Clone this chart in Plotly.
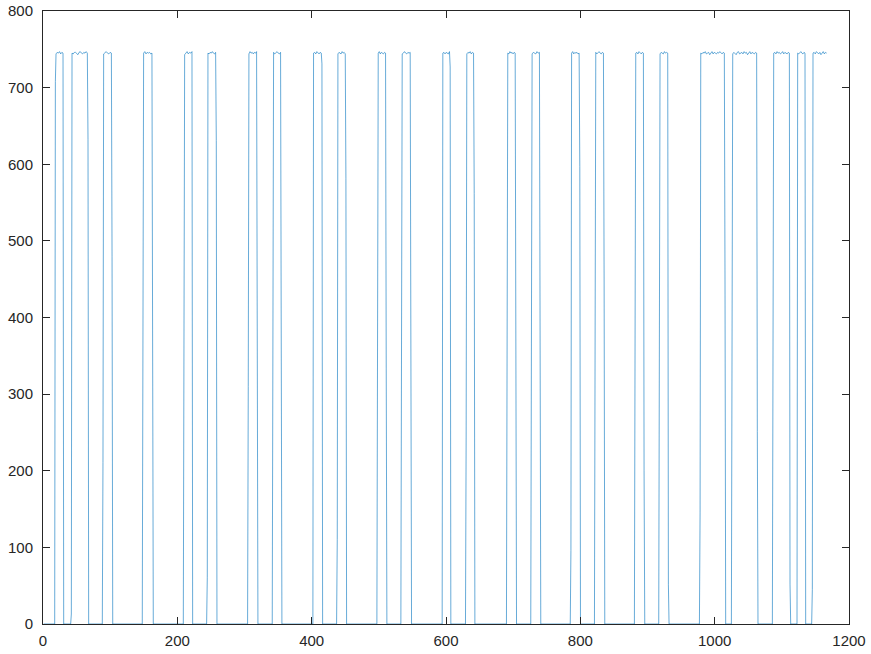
import numpy as np
import plotly.graph_objects as go

# ---- data ----
# rise position, value of the intermediate sample on the rising edge (None = none)
rise_x = [18.4, 42.2, 89.3, 148.8, 209.9, 244.6, 305.6, 342.3, 401.8, 438.1,
          498.1, 533.8, 594.3, 630.0, 691.0, 727.2, 786.0, 822.0, 881.5, 917.7,
          978.3, 1025.9, 1086.9, 1122.6, 1145.4]
rise_mid = [708, 13, 211, 458, 706, 61, 310, 508, None, 110,
            359, 507, None, 244, 493, 642, 96, 245, 493, 642,
            145, 344, 592, None, 45]
# fall position, value of the intermediate sample on the falling edge (None = none)
fall_x = [29.8, 66.0, 101.8, 162.2, 221.8, 257.0, 318.0, 353.7, 414.3, 450.0,
          510.0, 546.7, 605.2, 641.0, 703.0, 739.1, 798.2, 834.4, 893.9, 930.1,
          1014.4, 1062.5, 1111.2, 1134.5, 1166.7]
fall_mid = [None, 632, 480, 234, None, 631, 384, 234, 731, 581,
            334, 186, 727, 562, 200, 52, 597, 449, 200, 52,
            449, 251, 52, None, "end"]
# plateau samples (high level, slightly noisy)
plateaus = [
    [744, 746, 745, 747, 744, 746, 745],
    [745, 744, 746, 746, 745, 743, 746, 747, 745, 744, 746, 745, 747, 745],
    [744, 746, 747, 745, 744, 746, 745],
    [745, 747, 744, 746, 745, 746, 744, 745],
    [743, 745, 747, 744, 746, 745, 747],
    [745, 744, 746, 745, 747, 745, 744, 746],
    [744, 747, 745, 746, 744, 746, 745, 747],
    [746, 744, 745, 747, 745, 744, 746],
    [745, 746, 744, 747, 745, 744, 746, 745],
    [744, 746, 745, 744, 747, 745, 746, 744],
    [745, 747, 744, 746, 745, 744, 746, 745],
    [744, 745, 747, 745, 744, 746, 745, 746],
    [745, 746, 744, 746, 745, 744, 747],
    [744, 746, 745, 747, 744, 746, 745],
    [745, 744, 747, 745, 746, 744, 746, 745],
    [744, 746, 745, 744, 747, 745, 746],
    [745, 747, 744, 746, 745, 746, 744, 745],
    [746, 744, 745, 747, 745, 744, 746, 745],
    [745, 746, 744, 747, 745, 744, 746, 745],
    [744, 746, 745, 744, 747, 745, 746, 745],
    [745, 744, 746, 745, 747, 744, 745, 746, 743, 745, 747, 744, 746, 745, 744, 746, 745, 747, 745, 744, 746, 745],
    [744, 746, 745, 743, 746, 747, 744, 745, 746, 744, 747, 745, 746, 743, 745, 747, 744, 746, 745, 744, 746, 745],
    [745, 746, 744, 747, 745, 746, 744, 745, 747, 744, 746, 745, 744, 746, 745],
    [745, 744, 746, 747, 745, 744, 746, 745],
    [745, 746, 744, 747, 745, 744, 746, 743, 745, 747, 744, 746, 745],
]

# ---- assemble the sample sequence ----
xs, ys = [1.0], [0.0]
for rx, rm, fx, fm, pl in zip(rise_x, rise_mid, fall_x, fall_mid, plateaus):
    if rm is None:
        xs.append(rx); ys.append(0.0)
    else:
        xs += [rx - 1, rx]; ys += [0.0, rm]
    px = np.linspace(rx + 1, fx, len(pl))
    xs += list(px); ys += list(pl)
    if fm == "end":
        continue
    if fm is None:
        xs.append(fx + 1); ys.append(0.0)
    else:
        xs += [fx + 1, fx + 2]; ys += [fm, 0.0]

fig = go.Figure(go.Scatter(x=xs, y=ys, mode="lines",
                           line=dict(color="#0072BD", width=0.6),
                           hoverinfo="skip"))

axis_common = dict(showline=True, linecolor="#262626", linewidth=1,
                   mirror="allticks", ticks="inside", ticklen=7,
                   tickcolor="#262626", tickwidth=1, showgrid=False,
                   zeroline=False, automargin=False,
                   tickfont=dict(family="Liberation Sans, Arial, sans-serif",
                                 size=15, color="#262626"))

fig.update_layout(
    width=871, height=654,
    margin=dict(l=43, r=22, t=11, b=30),
    paper_bgcolor="white", plot_bgcolor="white",
    showlegend=False,
    xaxis=dict(range=[0, 1200], tickvals=[0, 200, 400, 600, 800, 1000, 1200],
               ticklabelstandoff=3, **axis_common),
    yaxis=dict(range=[0, 800], tickvals=[0, 100, 200, 300, 400, 500, 600, 700, 800],
               ticklabelstandoff=6, **axis_common),
)

# remove the default 8px page margin so the figure fills the window exactly
fig.write_html("out.html",
               config={"displayModeBar": False},
               post_script="document.body.style.margin='0';"
                           "document.body.style.overflow='hidden';")
